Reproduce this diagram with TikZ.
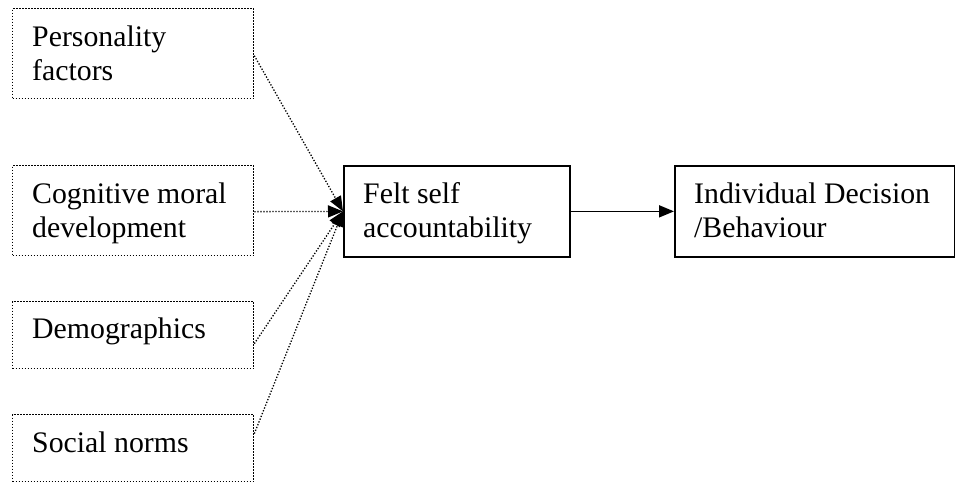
\documentclass[tikz,border=0pt]{standalone}
\usepackage{fontspec}
\setmainfont{Liberation Serif}
\usetikzlibrary{arrows.meta,calc}
\begin{document}
\begin{tikzpicture}[x=1pt,y=-1pt,
  dotbox/.style={draw, line width=1.3pt, dash pattern=on 1.3pt off 1.7pt, inner sep=0pt, anchor=north west},
  solidbox/.style={draw, line width=1.7pt, inner sep=0pt, anchor=north west},
  lbl/.style={anchor=base west, inner sep=0pt, font=\fontsize{29.8}{34}\selectfont},
  dotlink/.style={line width=1.3pt, dash pattern=on 1.3pt off 1.7pt, -{Triangle[length=15pt,width=12pt]}},
  solidlink/.style={line width=1.7pt, -{Triangle[length=15pt,width=12pt]}}]
\useasboundingbox (0,0) rectangle (955,483);
% left boxes
\node[dotbox, minimum width=241pt, minimum height=90pt] (pf) at (12,8) {};
\node[dotbox, minimum width=241pt, minimum height=90pt] (cm) at (12,165) {};
\node[dotbox, minimum width=241pt, minimum height=67pt] (dm) at (12,301) {};
\node[dotbox, minimum width=241pt, minimum height=67pt] (sn) at (12,414) {};
% right boxes
\node[solidbox, minimum width=226pt, minimum height=91pt] (fs) at (343,165) {};
\node[solidbox, minimum width=280pt, minimum height=91pt] (id) at (674,165) {};
% labels
\node[lbl] (pft) at ($(pf.north west)+(20,38.5)$) {\begin{tabular}[t]{@{}l@{}}Personality\\factors\end{tabular}};
\node[lbl] (cmt) at ($(cm.north west)+(20,38.5)$) {\begin{tabular}[t]{@{}l@{}}Cognitive moral\\development\end{tabular}};
\node[lbl] (dmt) at ($(dm.north west)+(20,37)$) {Demographics};
\node[lbl] (snt) at ($(sn.north west)+(20,38)$) {Social norms};
\node[lbl] (fst) at ($(fs.north west)+(20,38)$) {\begin{tabular}[t]{@{}l@{}}Felt self\\accountability\end{tabular}};
\node[lbl] (idt) at ($(id.north west)+(20,38)$) {\begin{tabular}[t]{@{}l@{}}Individual Decision\\/Behaviour\end{tabular}};
% connectors
\draw[dotlink] ($(pf.east)+(0,2)$) -- (fs.west);
\draw[dotlink] ($(cm.east)+(0,1)$) -- (fs.west);
\draw[dotlink] ($(dm.east)+(0,8.5)$) -- (fs.west);
\draw[dotlink] ($(sn.east)+(0,-14.5)$) -- (fs.west);
\draw[solidlink] (fs.east) -- (id.west);
\end{tikzpicture}
\end{document}
